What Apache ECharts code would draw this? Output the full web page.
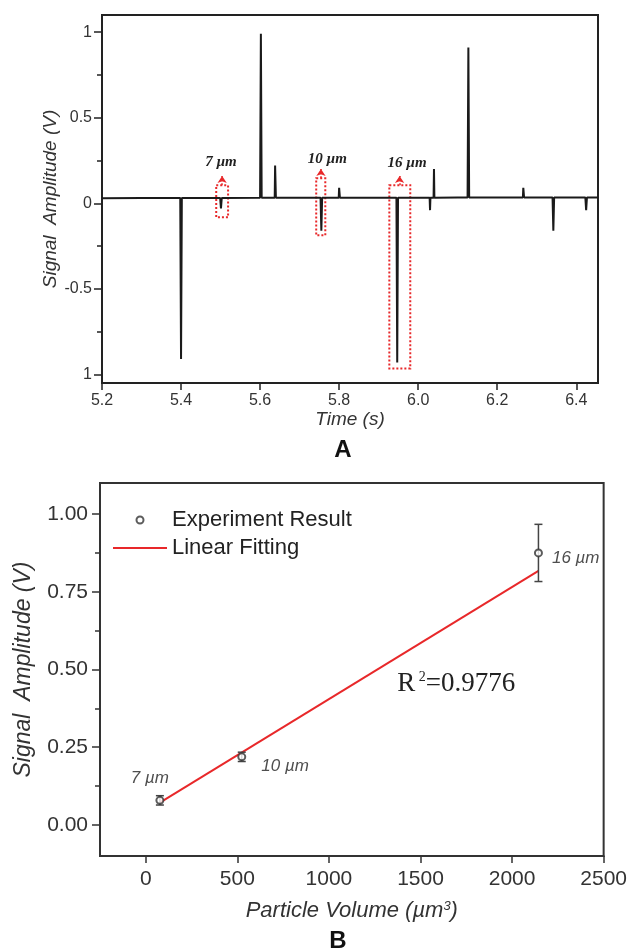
<!DOCTYPE html>
<html>
<head>
<meta charset="utf-8">
<script src="https://cdn.jsdelivr.net/npm/echarts@6/dist/echarts.min.js"></script>
<style>
html,body{margin:0;padding:0;background:#fff;}
#chart{width:630px;height:949px;}
</style>
</head>
<body>
<div id="chart"></div>
<script>
// ---------- Panel A data ----------
const timeTicks = [5.2, 5.4, 5.6, 5.8, 6.0, 6.2, 6.4];
const ampTicksA = [-1, -0.5, 0, 0.5, 1];
const ampTickLabelsA = ['1', '-0.5', '0', '0.5', '1'];
const ampMinorA = [-0.75, -0.25, 0.25, 0.75];
// signal trace [time (s), amplitude (V)]
const signalTrace = [
  [5.200, 0.030], [5.300, 0.031],
  [5.398, 0.031], [5.400, -0.910], [5.402, 0.031],
  [5.499, 0.031], [5.501, -0.030], [5.503, 0.031],
  [5.600, 0.032], [5.602, 0.990], [5.604, 0.032],
  [5.637, 0.032], [5.638, 0.220], [5.640, 0.032],
  [5.700, 0.032],
  [5.753, 0.032], [5.755, -0.160], [5.757, 0.032],
  [5.799, 0.032], [5.800, 0.090], [5.802, 0.032],
  [5.900, 0.033],
  [5.945, 0.033], [5.947, -0.930], [5.949, 0.033],
  [6.029, 0.033], [6.030, -0.040], [6.031, 0.033], [6.039, 0.033], [6.040, 0.200], [6.041, 0.033],
  [6.100, 0.034],
  [6.125, 0.034], [6.127, 0.910], [6.129, 0.034],
  [6.200, 0.034],
  [6.265, 0.034], [6.266, 0.090], [6.268, 0.034],
  [6.340, 0.034], [6.342, -0.160], [6.344, 0.034],
  [6.423, 0.034], [6.425, -0.040], [6.427, 0.034],
  [6.455, 0.034]
];
const particleNamesA = ['7 \u00b5m', '10 \u00b5m', '16 \u00b5m'];
// highlighted boxes [t0, t1, vTop, vBottom]
const boxRanges = [[5.489, 5.519, 0.105, -0.082], [5.742, 5.765, 0.146, -0.187], [5.927, 5.980, 0.105, -0.965]];
// arrows [t, vFrom, vTo]
const arrowRanges = [[5.504, 0.105, 0.16], [5.754, 0.146, 0.20], [5.953, 0.105, 0.16]];
// annotation text anchors [t, v]
const labelAnchors = [[5.501, 0.24], [5.770, 0.257], [5.972, 0.234]];

// ---------- Panel B data ----------
const volumeTicks = [0, 500, 1000, 1500, 2000, 2500];
const ampTicksB = [0, 0.25, 0.5, 0.75, 1.0];
const ampMinorB = [0.125, 0.375, 0.625, 0.875];
const particleVolume = [77, 524, 2144];
const signalAmplitude = [0.079, 0.219, 0.875];
const amplitudeError = [0.015, 0.015, 0.092];
const particleNamesB = ['7 \u00b5m', '10 \u00b5m', '16 \u00b5m'];
const fitVolume = [77, 2144];
const fitAmplitude = [0.072, 0.817];
const r2Anchor = [1373, 0.453];

const chart = echarts.init(document.getElementById('chart'), null, {renderer: 'canvas'});

const red = '#e8282a';
const axisColor = '#222';

const labelOffsetsB = [[-10, -4], [10, 9], [4, 5]];
const labelPosB = ['top', 'right', 'right'];

const scatterData = particleVolume.map((v, i) => ({
  value: [v, signalAmplitude[i]],
  label: {show: true, position: labelPosB[i], offset: labelOffsetsB[i], formatter: particleNamesB[i]}
}));
const errorData = particleVolume.map((v, i) => [v, signalAmplitude[i] - amplitudeError[i], signalAmplitude[i] + amplitudeError[i]]);

const option = {
  animation: false,
  backgroundColor: '#fff',
  textStyle: {fontFamily: 'Arial, "Liberation Sans", sans-serif'},
  grid: [
    {left: 102, top: 15, right: 32, bottom: 566, show: true, borderColor: axisColor, borderWidth: 2, backgroundColor: 'transparent'},
    {left: 100, top: 483, right: 26, bottom: 93, show: true, borderColor: '#333', borderWidth: 2, backgroundColor: 'transparent'}
  ],
  legend: {
    data: [
      {name: 'Experiment Result', icon: 'emptyCircle'},
      {name: 'Linear Fitting', icon: 'path://M0,0H54V2H0Z'}
    ],
    orient: 'vertical',
    left: 108, top: 504,
    itemWidth: 54, itemHeight: 7, itemGap: 6,
    textStyle: {fontSize: 22, color: '#222', fontFamily: 'Arial, "Liberation Sans", sans-serif'},
    selectedMode: false
  },
  xAxis: [
    {
      type: 'value', gridIndex: 0, min: 5.2, max: 6.455,
      name: 'Time (s)', nameLocation: 'middle', nameGap: 25,
      nameTextStyle: {fontSize: 19, fontStyle: 'italic', color: '#333'},
      axisLine: {show: true, onZero: false, lineStyle: {color: axisColor, width: 2}},
      axisTick: {show: true, length: 7, customValues: timeTicks, lineStyle: {color: axisColor, width: 1.5}},
      axisLabel: {customValues: timeTicks, fontSize: 16, color: '#333', margin: 10, formatter: v => v.toFixed(1)},
      splitLine: {show: false}
    },
    {
      type: 'value', gridIndex: 1, min: -250, max: 2500,
      name: 'Particle Volume (\u00b5m{sup|3})', nameLocation: 'middle', nameGap: 44,
      nameTextStyle: {fontSize: 22, fontStyle: 'italic', color: '#333', rich: {sup: {fontSize: 13, fontStyle: 'italic', color: '#333', verticalAlign: 'top', lineHeight: 14}}},
      axisLine: {show: true, onZero: false, lineStyle: {color: '#333', width: 2}},
      axisTick: {show: true, length: 7, customValues: volumeTicks, lineStyle: {color: '#333', width: 1.5}},
      axisLabel: {customValues: volumeTicks, fontSize: 21, color: '#333', margin: 13, formatter: v => String(v)},
      splitLine: {show: false}
    }
  ],
  yAxis: [
    {
      type: 'value', gridIndex: 0, min: -1.05, max: 1.1, position: 'left',
      name: 'Signal  Amplitude (V)', nameLocation: 'middle', nameGap: 42, nameMoveOverlap: false,
      nameTextStyle: {fontSize: 19, fontStyle: 'italic', color: '#333'},
      axisLine: {show: true, onZero: false, lineStyle: {color: axisColor, width: 2}},
      axisTick: {show: true, length: 8, customValues: ampTicksA, lineStyle: {color: axisColor, width: 1.5}},
      axisLabel: {customValues: ampTicksA, fontSize: 16, color: '#333', margin: 10,
        formatter: v => ampTickLabelsA[ampTicksA.findIndex(t => Math.abs(t - v) < 1e-6)]},
      splitLine: {show: false}
    },
    {
      type: 'value', gridIndex: 0, min: -1.05, max: 1.1, position: 'left',
      axisLine: {show: false, onZero: false},
      axisTick: {show: true, length: 5, customValues: ampMinorA, lineStyle: {color: axisColor, width: 1.5}},
      axisLabel: {show: false},
      splitLine: {show: false}
    },
    {
      type: 'value', gridIndex: 1, min: -0.1, max: 1.1, position: 'left',
      name: 'Signal  Amplitude (V)', nameLocation: 'middle', nameGap: 65, nameMoveOverlap: false,
      nameTextStyle: {fontSize: 23, fontStyle: 'italic', color: '#333'},
      axisLine: {show: true, onZero: false, lineStyle: {color: '#333', width: 2}},
      axisTick: {show: true, length: 8, customValues: ampTicksB, lineStyle: {color: '#333', width: 1.5}},
      axisLabel: {customValues: ampTicksB, fontSize: 21, color: '#333', margin: 12, formatter: v => v.toFixed(2)},
      splitLine: {show: false}
    },
    {
      type: 'value', gridIndex: 1, min: -0.1, max: 1.1, position: 'left',
      axisLine: {show: false, onZero: false},
      axisTick: {show: true, length: 5, customValues: ampMinorB, lineStyle: {color: '#333', width: 1.5}},
      axisLabel: {show: false},
      splitLine: {show: false}
    }
  ],
  series: [
    {
      name: 'Signal', type: 'line', xAxisIndex: 0, yAxisIndex: 0,
      data: signalTrace, showSymbol: false, symbol: 'none',
      lineStyle: {color: '#1a1a1a', width: 2},
      markArea: {
        silent: true,
        itemStyle: {color: 'rgba(0,0,0,0)', borderColor: red, borderWidth: 2, borderType: [2, 2]},
        data: boxRanges.map(b => [{coord: [b[0], b[2]]}, {coord: [b[1], b[3]]}])
      },
      markLine: {
        silent: true, symbol: ['none', 'arrow'], symbolSize: [7, 7],
        lineStyle: {color: red, width: 1.5, type: [2, 2]},
        label: {show: false},
        data: arrowRanges.map(a => [{coord: [a[0], a[1]]}, {coord: [a[0], a[2]]}])
      },
      markPoint: {
        silent: true, symbol: 'circle', symbolSize: 0,
        label: {show: true, position: 'inside', color: '#222', fontSize: 15, fontWeight: 'bold', fontStyle: 'italic', fontFamily: '"Liberation Serif", "DejaVu Serif", serif'},
        data: labelAnchors.map((p, i) => ({coord: p, name: particleNamesA[i], label: {formatter: particleNamesA[i]}}))
      }
    },
    {
      name: 'Linear Fitting', type: 'line', xAxisIndex: 1, yAxisIndex: 2,
      data: fitVolume.map((v, i) => [v, fitAmplitude[i]]),
      showSymbol: false, symbol: 'none', z: 2,
      lineStyle: {color: red, width: 2}, itemStyle: {color: red},
      markPoint: {
        silent: true, symbol: 'circle', symbolSize: 0,
        label: {
          show: true, position: 'right', distance: 0,
          formatter: '{a|R}{s| 2}{a|=0.9776}',
          rich: {
            a: {fontSize: 27, color: '#222', fontFamily: '"Liberation Serif", "Times New Roman", serif'},
            s: {fontSize: 14, color: '#222', fontFamily: '"Liberation Serif", "Times New Roman", serif', verticalAlign: 'top', padding: [0, 0, 12, 0]}
          }
        },
        data: [{coord: r2Anchor}]
      }
    },
    {
      name: 'ErrorBars', type: 'custom', xAxisIndex: 1, yAxisIndex: 2, z: 3,
      data: errorData,
      encode: {x: 0, y: [1, 2]},
      renderItem: function (params, api) {
        const x = api.value(0);
        const lo = api.coord([x, api.value(1)]);
        const hi = api.coord([x, api.value(2)]);
        const w = 4;
        const st = {stroke: '#444', lineWidth: 1.5};
        return {type: 'group', children: [
          {type: 'line', shape: {x1: lo[0], y1: lo[1], x2: hi[0], y2: hi[1]}, style: st},
          {type: 'line', shape: {x1: lo[0] - w, y1: lo[1], x2: lo[0] + w, y2: lo[1]}, style: st},
          {type: 'line', shape: {x1: hi[0] - w, y1: hi[1], x2: hi[0] + w, y2: hi[1]}, style: st}
        ]};
      }
    },
    {
      name: 'Experiment Result', type: 'scatter', xAxisIndex: 1, yAxisIndex: 2, z: 4,
      data: scatterData,
      symbol: 'emptyCircle', symbolSize: 7,
      itemStyle: {color: '#333', borderColor: '#333', borderWidth: 1.4},
      label: {fontSize: 17, fontStyle: 'italic', color: '#222', distance: 5}
    }
  ],
  graphic: [
    {type: 'text', x: 343, y: 450, style: {text: 'A', fontSize: 24, fontWeight: 'bold', fill: '#111', align: 'center', verticalAlign: 'middle', fontFamily: 'Arial, "Liberation Sans", sans-serif'}},
    {type: 'text', x: 338, y: 941, style: {text: 'B', fontSize: 24, fontWeight: 'bold', fill: '#111', align: 'center', verticalAlign: 'middle', fontFamily: 'Arial, "Liberation Sans", sans-serif'}}
  ]
};

chart.setOption(option);
</script>
</body>
</html>
